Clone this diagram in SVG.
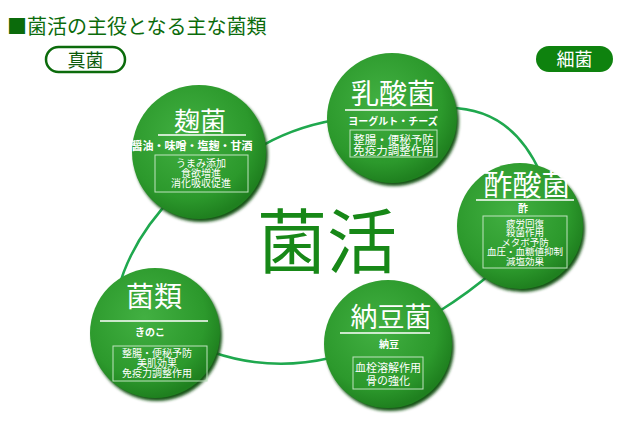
<svg xmlns="http://www.w3.org/2000/svg" width="640" height="426" viewBox="0 0 640 426">
<defs>
<radialGradient id="g" cx="42%" cy="38%" r="62%">
<stop offset="0" stop-color="#42b042"/>
<stop offset="0.75" stop-color="#2c992c"/>
<stop offset="1" stop-color="#1f801f"/>
</radialGradient>
<filter id="blur" x="-20%" y="-20%" width="140%" height="140%"><feGaussianBlur stdDeviation="1.5"/></filter>
<style>
.t{font-family:"Noto Sans CJK JP","Noto Sans",sans-serif;fill:#fff;text-anchor:middle}
.sub{font-size:10px;font-weight:bold}
.bx{font-size:10px}
.box{fill:none;stroke:#bfe3bf;stroke-width:1}
.rule{stroke:#fff;stroke-width:1.5}
.sh{fill:#145414;filter:url(#blur)}
.c{fill:url(#g)}
.con{fill:none;stroke:#1fa84e;stroke-width:2.5}
</style>
</defs>
<rect width="640" height="426" fill="#fff"/>
<text x="7" y="34" font-family="Noto Sans CJK JP, sans-serif" font-size="20" fill="#0b6b0b">■菌活の主役となる主な菌類</text>
<g id="shinkin">
<rect x="46" y="47" width="79" height="25" rx="12.5" fill="#fff" stroke="#0b6b0b" stroke-width="2.5"/>
<text x="85.5" y="67" font-family="Noto Sans CJK JP, sans-serif" font-size="18" fill="#0b5a0b" text-anchor="middle">真菌</text>
</g>
<g id="saikin">
<rect x="536" y="46" width="77" height="26" rx="13" fill="#0e820e"/>
<text x="574.5" y="66" font-family="Noto Sans CJK JP, sans-serif" font-size="18" fill="#fff" text-anchor="middle">細菌</text>
</g>
<g id="connectors">
<path class="con" d="M118,290 Q132,238 175,195"/>
<path class="con" d="M255,150 Q290,128 335,120"/>
<path class="con" d="M445,108 Q510,106 540,172"/>
<path class="con" d="M495,270 Q470,292 438,312"/>
<path class="con" d="M212,352 Q270,372 330,358"/>
</g>
<text x="327" y="268" font-family="Noto Sans CJK JP, sans-serif" font-size="70" fill="#178817" text-anchor="middle">菌活</text>
<g id="koujikin">
<circle class="sh" cx="201" cy="155" r="67"/>
<circle class="c" cx="199" cy="152" r="67"/>
<text class="t" x="200" y="131" font-size="26">麹菌</text>
<line class="rule" x1="158" y1="135" x2="246" y2="135"/>
<text class="t sub" x="192" y="150" style="font-size:11px">醤油・味噌・塩麹・甘酒</text>
<rect class="box" x="155" y="155" width="93" height="37"/>
<text class="t bx" x="201" y="166.5">うまみ添加</text>
<text class="t bx" x="201" y="176.5">食欲増進</text>
<text class="t bx" x="201" y="186.5">消化吸収促進</text>
</g>
<g id="nyusankin">
<circle class="sh" cx="394" cy="121" r="65"/>
<circle class="c" cx="392" cy="118" r="65"/>
<text class="t" x="393" y="104" font-size="28">乳酸菌</text>
<line class="rule" x1="345" y1="110" x2="438" y2="110"/>
<text class="t sub" x="393" y="125">ヨーグルト・チーズ</text>
<rect class="box" x="350" y="130" width="87" height="27"/>
<text class="t bx" x="393.5" y="143.5" style="font-size:11.5px">整腸・便秘予防</text>
<text class="t bx" x="393.5" y="155" style="font-size:11.5px">免疫力調整作用</text>
</g>
<g id="sakusankin">
<circle class="sh" cx="522" cy="229" r="63"/>
<circle class="c" cx="520" cy="226" r="63"/>
<text class="t" x="527" y="196" font-size="29">酢酸菌</text>
<line class="rule" x1="476" y1="200" x2="574" y2="200"/>
<text class="t sub" x="523" y="212">酢</text>
<rect class="box" x="483" y="216" width="84" height="52"/>
<text class="t bx" x="525" y="226.5" style="font-size:9.5px">疲労回復</text>
<text class="t bx" x="525" y="236" style="font-size:9.5px">殺菌作用</text>
<text class="t bx" x="525" y="245.5" style="font-size:9.5px">メタボ予防</text>
<text class="t bx" x="525" y="255" style="font-size:9.5px">血圧・血糖値抑制</text>
<text class="t bx" x="525" y="264.5" style="font-size:9.5px">減塩効果</text>
</g>
<g id="kinrui">
<circle class="sh" cx="157" cy="336" r="65"/>
<circle class="c" cx="155" cy="333" r="65"/>
<text class="t" x="154" y="307" font-size="28">菌類</text>
<line class="rule" x1="100" y1="321" x2="208" y2="321"/>
<text class="t sub" x="150" y="336">きのこ</text>
<rect class="box" x="113" y="346" width="94" height="35"/>
<text class="t bx" x="157" y="357">整腸・便秘予防</text>
<text class="t bx" x="157" y="367">美肌効果</text>
<text class="t bx" x="157" y="377">免疫力調整作用</text>
</g>
<g id="nattoukin">
<circle class="sh" cx="390" cy="347" r="64"/>
<circle class="c" cx="388" cy="344" r="64"/>
<text class="t" x="391" y="327" font-size="27">納豆菌</text>
<line class="rule" x1="340" y1="333" x2="430" y2="333"/>
<text class="t sub" x="389" y="348">納豆</text>
<rect class="box" x="353" y="357" width="70" height="32"/>
<text class="t bx" x="388" y="371.5" style="font-size:11px">血栓溶解作用</text>
<text class="t bx" x="388" y="384.5" style="font-size:11px">骨の強化</text>
</g>
</svg>
